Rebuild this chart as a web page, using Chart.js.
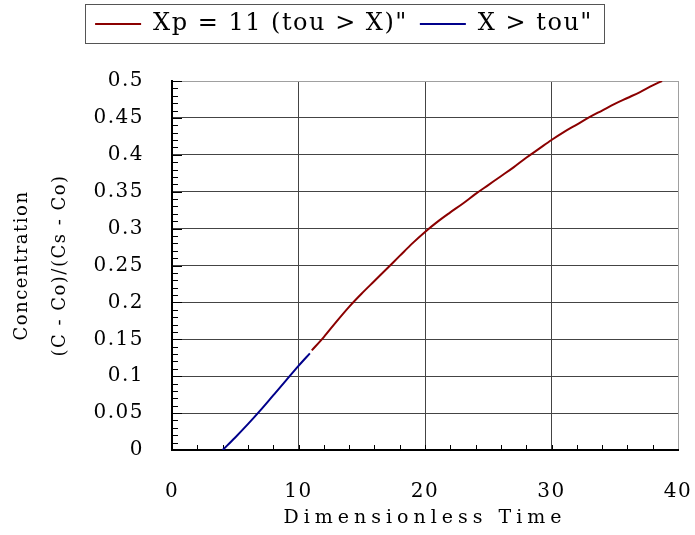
<!DOCTYPE html>
<html>
<head>
<meta charset="utf-8">
<title>Concentration vs Dimensionless Time</title>
<script src="https://cdn.jsdelivr.net/npm/chart.js"></script>
<style>
  html, body { margin: 0; padding: 0; background: #fff; }
  canvas { display: block; }
</style>
</head>
<body>
<canvas id="chart" width="695" height="535"></canvas>
<script>
// values
const redLabel = 'Xp = 11 (tou > X)"';
const redX = [11.05, 12, 13, 14, 15, 16, 17, 18, 19, 20, 21, 22, 23, 24, 25, 26, 27, 28, 29, 30, 31, 32, 33, 34, 35, 36, 37, 38, 38.74];
const redY = [0.135, 0.153, 0.174, 0.194, 0.212, 0.229, 0.246, 0.263, 0.280, 0.2955, 0.3095, 0.322, 0.334, 0.347, 0.359, 0.371, 0.383, 0.396, 0.408, 0.420, 0.431, 0.441, 0.451, 0.460, 0.469, 0.477, 0.485, 0.494, 0.500];

const blueLabel = 'X > tou"';
const blueX = [4, 5, 6, 7, 8, 9, 10, 10.9];
const blueY = [0, 0.017, 0.035, 0.054, 0.074, 0.094, 0.114, 0.131];

const xTitle = 'Dimensionless Time';
const yTitle = ['Concentration', '(C - Co)/(Cs - Co)'];

const FONT = 'DejaVu Serif';

function toPoints(xs, ys) {
    return xs.map((x, i) => ({ x: x, y: ys[i] }));
}

// Chart.js has no letter-spacing option, so set it on the context
const spacing = {
    id: 'spacing',
    beforeUpdate(chart) {
        chart.ctx.letterSpacing = '1.5px';
    },
    beforeLayout(chart) {
        // leave room between the legend and the plot
        const lg = chart.legend;
        if (lg && !lg._gapPatched) {
            const fit = lg.fit;
            lg.fit = function () { fit.call(this); this.height += 35; };
            lg._gapPatched = true;
        }
    },
    beforeDraw(chart) {
        chart.ctx.letterSpacing = '1.5px';
        const sx = chart.scales.x;
        if (sx && !sx._titlePatched) {
            const draw = sx.drawTitle;
            sx.drawTitle = function () {
                this.ctx.save();
                this.ctx.letterSpacing = '5px';
                draw.call(this);
                this.ctx.restore();
            };
            sx._titlePatched = true;
        }
    }
};

// small inward ticks on the left and bottom axes
const minorTicks = {
    id: 'minorTicks',
    beforeDatasetsDraw(chart) {
        const { ctx, chartArea: a, scales: { x, y } } = chart;
        ctx.save();
        ctx.strokeStyle = '#000';
        ctx.lineWidth = 1;
        ctx.beginPath();
        for (let i = 0; i <= 50; i++) {
            const v = y.min + i * 0.01;
            const py = Math.round(y.getPixelForValue(v)) + 0.5;
            ctx.moveTo(a.left, py);
            ctx.lineTo(a.left + (i % 5 === 0 ? 10 : 6), py);
        }
        for (let v = x.min + 2; v < x.max; v += 2) {
            const px = Math.round(x.getPixelForValue(v)) + 0.5;
            ctx.moveTo(px, a.bottom);
            ctx.lineTo(px, a.bottom - 5);
        }
        ctx.stroke();
        ctx.restore();
    }
};

// frame round the legend
const legendFrame = {
    id: 'legendFrame',
    afterDraw(chart) {
        const boxes = chart.legend && chart.legend.legendHitBoxes;
        if (!boxes || !boxes.length) return;
        const first = boxes[0], last = boxes[boxes.length - 1];
        const l = Math.round(first.left - 10) + 0.5;
        const r = Math.round(last.left + last.width + 11) + 0.5;
        const t = Math.round(first.top - 8) + 0.5;
        const b = Math.round(first.top + first.height + 7) + 0.5;
        const ctx = chart.ctx;
        ctx.save();
        ctx.strokeStyle = '#555';
        ctx.lineWidth = 1;
        ctx.strokeRect(l, t, r - l, b - t);
        ctx.restore();
    }
};

function gridColor(ctx) {
    const s = ctx.scale;
    return ctx.tick && ctx.tick.value === s.max ? '#a0a0a0' : '#444';
}

new Chart(document.getElementById('chart'), {
    type: 'line',
    data: {
        datasets: [
            {
                label: redLabel,
                data: toPoints(redX, redY),
                borderColor: '#8b0000',
                backgroundColor: '#8b0000',
                borderWidth: 2,
                pointRadius: 0,
                cubicInterpolationMode: 'monotone'
            },
            {
                label: blueLabel,
                data: toPoints(blueX, blueY),
                borderColor: '#00008b',
                backgroundColor: '#00008b',
                borderWidth: 2,
                pointRadius: 0,
                cubicInterpolationMode: 'monotone'
            }
        ]
    },
    options: {
        responsive: false,
        animation: false,
        layout: { padding: { top: 0, left: 10, right: 17, bottom: 0 } },
        plugins: {
            legend: {
                position: 'top',
                labels: {
                    usePointStyle: true,
                    pointStyle: 'line',
                    pointStyleWidth: 46,
                    padding: 12,
                    color: '#000',
                    font: { family: FONT, size: 24 }
                }
            },
            tooltip: { enabled: false }
        },
        scales: {
            x: {
                type: 'linear',
                min: 0,
                max: 40,
                ticks: { stepSize: 10, padding: 30, color: '#000', font: { family: FONT, size: 20 } },
                grid: { color: gridColor, drawTicks: false },
                border: { color: '#000', width: 2 },
                title: {
                    display: true,
                    text: xTitle,
                    color: '#000',
                    font: { family: FONT, size: 19 },
                    padding: { top: 0, bottom: 6 }
                },
                afterFit(s) {
                    s.height = 85;
                    s.paddingRight = 14;
                }
            },
            y: {
                min: 0,
                max: 0.5,
                ticks: {
                    stepSize: 0.05,
                    padding: 28,
                    color: '#000',
                    font: { family: FONT, size: 20 },
                    callback: v => String(+v.toFixed(2))
                },
                grid: { color: gridColor, drawTicks: false },
                border: { color: '#000', width: 2 },
                title: {
                    display: true,
                    text: yTitle,
                    color: '#000',
                    font: { family: FONT, size: 18, lineHeight: 38 / 18 },
                    padding: { top: -7, bottom: 0 }
                },
                afterFit(s) { s.width = 162; }
            }
        }
    },
    plugins: [spacing, minorTicks, legendFrame]
});
</script>
</body>
</html>
